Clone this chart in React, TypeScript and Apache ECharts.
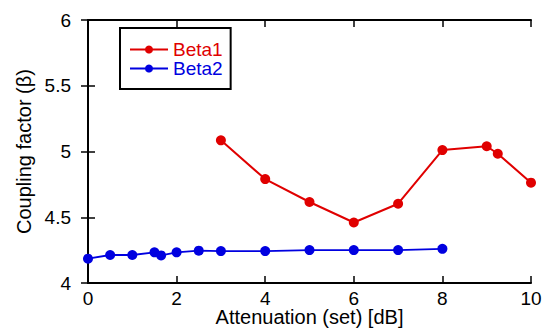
import React, { useEffect, useRef } from "react";
import * as echarts from "echarts";

const beta1X = [3, 4, 5, 6, 7, 8, 9, 9.25, 10];
const beta1Y = [5.085, 4.79, 4.616, 4.46, 4.603, 5.011, 5.04, 4.983, 4.763];
const beta2X = [0, 0.5, 1, 1.5, 1.65, 2, 2.5, 3, 4, 5, 6, 7, 8];
const beta2Y = [4.185, 4.213, 4.213, 4.233, 4.21, 4.233, 4.246, 4.243, 4.243, 4.25, 4.25, 4.25, 4.26];
const seriesNames = ["Beta1", "Beta2"];
const xTitle = "Attenuation (set) [dB]";
const yTitle = "Coupling factor (\u03b2)";

const FONT = "Liberation Sans, Arial, sans-serif";
const FS = 19;
const TITLE_FS = 20;

export default function App() {
  const ref = useRef<HTMLDivElement>(null);
  useEffect(() => {
    if (!ref.current) return;
    const chart = echarts.init(ref.current, undefined, { renderer: "svg" });
    const axisCommon = {
      type: "value" as const,
      axisLine: { show: true, lineStyle: { color: "#000", width: 2 } },
      axisTick: { show: true, inside: true, length: 7, lineStyle: { color: "#000", width: 1.5 } },
      splitLine: { show: false },
      nameMoveOverlap: false,
    };
    chart.setOption({
      animation: false,
      backgroundColor: "#fff",
      textStyle: { fontFamily: FONT },
      grid: { left: 88, top: 20, right: 20, bottom: 45, outerBoundsMode: "none", containLabel: false },
      legend: {
        left: 120,
        top: 28,
        orient: "vertical",
        padding: [12, 8, 11, 9],
        borderColor: "#000",
        borderWidth: 2,
        itemWidth: 38,
        itemHeight: 10,
        itemGap: 0,
        textStyle: { fontFamily: FONT, fontSize: FS, lineHeight: 14 },
        data: [
          { name: seriesNames[0], textStyle: { color: "#e00000" } },
          { name: seriesNames[1], textStyle: { color: "#0000e0" } },
        ],
      },
      xAxis: [
        {
          ...axisCommon,
          min: 0,
          max: 10,
          interval: 2,
          position: "bottom",
          name: xTitle,
          nameLocation: "middle",
          nameGap: 24,
          nameTextStyle: { fontFamily: FONT, fontSize: TITLE_FS, color: "#000" },
          axisLabel: { fontFamily: FONT, fontSize: FS, color: "#000", margin: 6 },
        },
        {
          ...axisCommon,
          min: 0,
          max: 10,
          interval: 2,
          position: "top",
          axisLabel: { show: false },
        },
      ],
      yAxis: [
        {
          ...axisCommon,
          min: 4,
          max: 6,
          interval: 0.5,
          position: "left",
          name: yTitle,
          nameLocation: "middle",
          nameGap: 54,
          nameTextStyle: { fontFamily: FONT, fontSize: TITLE_FS, color: "#000" },
          axisLabel: { fontFamily: FONT, fontSize: FS, color: "#000", margin: 17, padding: [0, 0, 3, 0] },
        },
        {
          ...axisCommon,
          min: 4,
          max: 6,
          interval: 0.5,
          position: "right",
          axisLabel: { show: false },
        },
      ],
      series: [
        {
          name: seriesNames[0],
          type: "line",
          data: beta1X.map((x, i) => [x, beta1Y[i]]),
          symbol: "circle",
          symbolSize: 10,
          itemStyle: { color: "#e00000" },
          lineStyle: { color: "#e00000", width: 2 },
        },
        {
          name: seriesNames[1],
          type: "line",
          data: beta2X.map((x, i) => [x, beta2Y[i]]),
          symbol: "circle",
          symbolSize: 10,
          itemStyle: { color: "#0000e0" },
          lineStyle: { color: "#0000e0", width: 1.8 },
        },
      ],
    });
    return () => chart.dispose();
  }, []);
  return (
    <div
      ref={ref}
      style={{ position: "fixed", left: 0, top: 0, width: 551, height: 328 }}
    />
  );
}
